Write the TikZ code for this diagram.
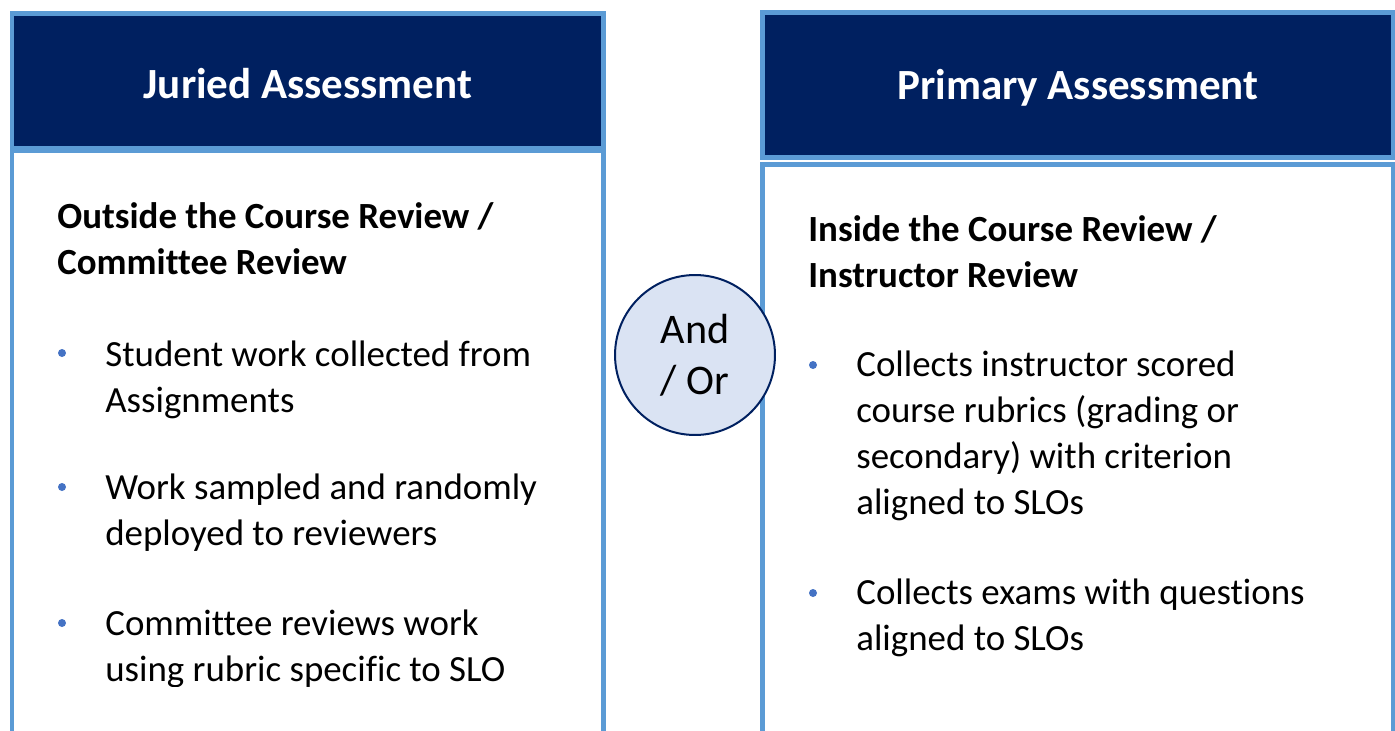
\documentclass[tikz,border=0pt]{standalone}
\usepackage{fontspec}
\setmainfont{Carlito}[Ligatures=NoCommon]
\definecolor{navy}{HTML}{002060}
\definecolor{edgeblue}{HTML}{5B9BD5}
\definecolor{pale}{HTML}{DAE3F3}
\definecolor{bulletblue}{HTML}{4472C4}

\begin{document}
\begin{tikzpicture}[x=0.02cm, y=-0.02cm,
  head/.style = {draw=edgeblue, line width=0.1cm, fill=navy, inner sep=0, anchor=north west},
  headtext/.style = {text=white, font=\bfseries\fontsize{24.5}{29}\selectfont, inner sep=0, yshift=-0.06cm},
  panel/.style = {draw=edgeblue, line width=0.1cm, fill=white, inner sep=0, anchor=north west},
  title/.style = {anchor=base west, align=left, inner sep=0, font=\bfseries\fontsize{21}{26}\selectfont},
  item/.style = {anchor=base west, align=left, inner sep=0, font=\fontsize{21}{26}\selectfont},
  bulletdot/.style = {circle, fill=bulletblue, inner sep=0, minimum size=0.16cm}]
\useasboundingbox (0,0) rectangle (1395,730);

\node[panel, minimum width=11.84cm, minimum height=13cm] (jbody) at (9.5,148) {};
\node[head, minimum width=11.84cm, minimum height=2.7cm] (jhead) at (9.5,11) {};
\node[headtext] (jlabel) at (jhead.center) {Juried Assessment};
\node[panel, minimum width=12.62cm, minimum height=13cm] (pbody) at (760,161.5) {};
\node[head, minimum width=12.62cm, minimum height=2.9cm] (phead) at (760,10) {};
\node[headtext] (plabel) at (phead.center) {Primary Assessment};

\node[title] (jtitle) at (57,274) {Outside the Course Review /\\Committee Review};
\node[bulletdot] (j1) at (62,353) {};
\node[item] (jt1) at (105,412) {Student work collected from\\Assignments};
\node[bulletdot] (j2) at (62,487) {};
\node[item] (jt2) at (105,545) {Work sampled and randomly\\deployed to reviewers};
\node[bulletdot] (j3) at (62,623) {};
\begin{scope}
\clip (0,0) rectangle (1395,686);
\node[item] (jt3) at (105,681) {Committee reviews work\\using rubric specific to SLO};
\end{scope}

\node[title] (ptitle) at (808,287) {Inside the Course Review /\\Instructor Review};
\node[bulletdot] (p1) at (813,365) {};
\node[item] (pt1) at (856,514) {Collects instructor scored\\course rubrics (grading or\\secondary) with criterion\\aligned to SLOs};
\node[bulletdot] (p2) at (813,593) {};
\node[item] (pt2) at (856,650) {Collects exams with questions\\aligned to SLOs};

\node[circle, draw=navy, line width=0.04cm, fill=pale, minimum size=3.2cm, align=center, font=\fontsize{24}{29}\selectfont] (andor) at (695,355) {And\\/ Or};
\end{tikzpicture}
\end{document}
